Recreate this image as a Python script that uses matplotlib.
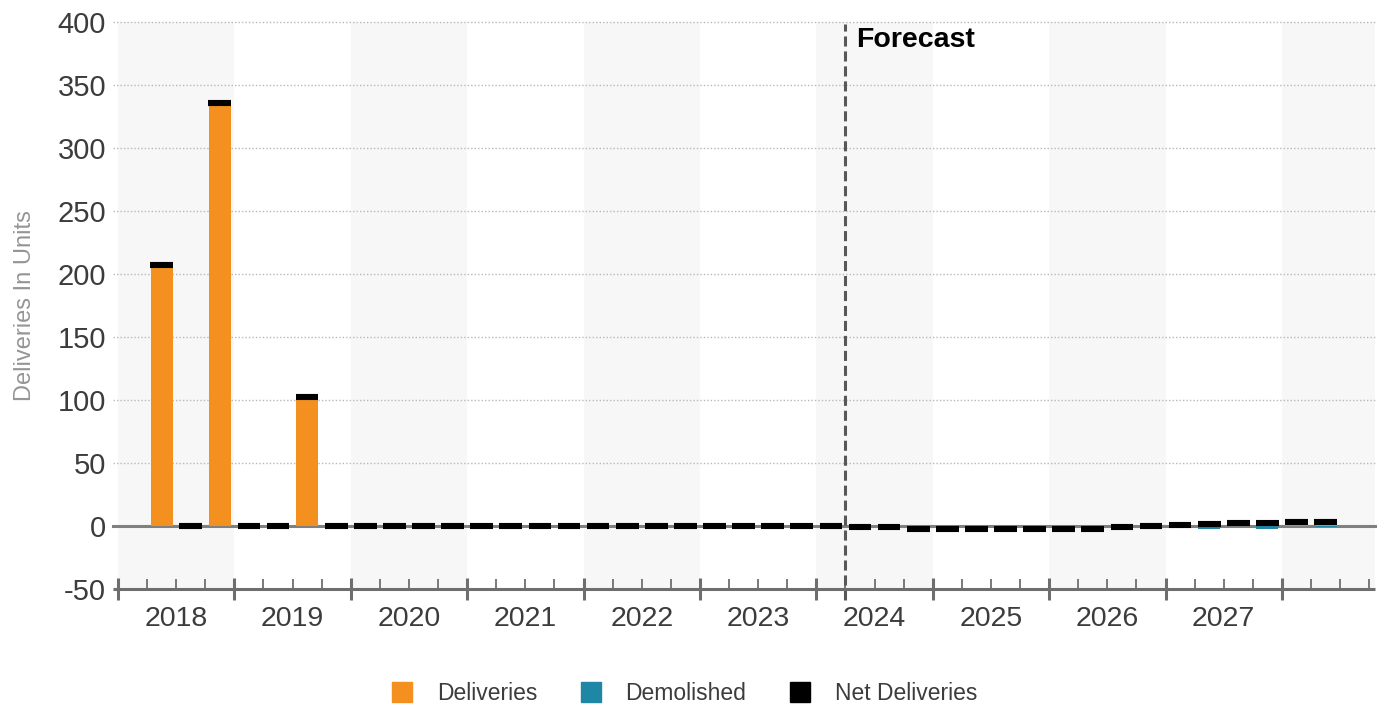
import matplotlib.pyplot as plt
import numpy as np
from matplotlib.lines import Line2D

plt.rcParams["font.family"] = ["Liberation Sans", "DejaVu Sans"]

# quarterly slots starting at 2018 Q1 (slot 0 has no data)
years = ["2018", "2019", "2020", "2021", "2022", "2023", "2024", "2025", "2026", "2027"]
deliveries = [np.nan, 207, 0, 336, 0, 0, 102, 0,
              0, 0, 0, 0, 0, 0, 0, 0,
              0, 0, 0, 0, 0, 0, 0, 0,
              0, 0, 0, 0, 0, 0, 0, 0,
              0, 0, 0, 0, 1, 3.6, 2, 4.6,
              3, 3.8]
demolished = [np.nan, 0, 0, 0, 0, 0, 0, 0,
              0, 0, 0, 0, 0, 0, 0, 0,
              0, 0, 0, 0, 0, 0, 0, 0,
              0, -1, -1, -2, -2, -2, -2, -2,
              -2, -2, -1, 0, 0, -2.4, 0, -2.6,
              0, -0.8]
net_deliveries = [np.nan, 207, 0, 336, 0, 0, 102, 0,
                  0, 0, 0, 0, 0, 0, 0, 0,
                  0, 0, 0, 0, 0, 0, 0, 0,
                  0, -1, -1, -2, -2, -2, -2, -2,
                  -2, -2, -1, 0, 1, 1.2, 2, 2.0,
                  3, 3.0]
forecast_start = 25

orange = "#f39020"
teal = "#1f87a5"
axis_grey = "#6e6e6e"
text_grey = "#3c3c3c"

x = np.arange(len(deliveries)) + 0.5
bar_w = 0.76

fig = plt.figure(figsize=(13.85, 7.11), dpi=100)
ax = fig.add_axes([0.0852, 0.1716, 0.9076, 0.7975])
ax.set_xlim(0, 43.2)
ax.set_ylim(-50, 400)

# alternating year bands
for k in range(0, 11, 2):
    ax.axvspan(4 * k, min(4 * k + 4, 43.2), color="#f7f7f7", lw=0, zorder=0)

# dotted gridlines that poke out a little to the left
ytr = ax.get_yaxis_transform()
for v in range(50, 401, 50):
    ax.plot([-0.004, 1], [v, v], transform=ytr, color="#b8b8b8", lw=1,
            ls=(0, (1, 1.5)), clip_on=False, zorder=1)
ax.plot([-0.004, 1], [0, 0], transform=ytr, color="#808080", lw=2.2,
        clip_on=False, zorder=2)

ax.bar(x, deliveries, width=bar_w, color=orange, zorder=3)
ax.bar(x, demolished, width=bar_w, color=teal, zorder=3)
ax.hlines(net_deliveries, x - bar_w / 2 - 0.01, x + bar_w / 2 + 0.01,
          colors="black", lw=4.4, capstyle="butt", zorder=4)

# forecast divider
ax.plot([forecast_start, forecast_start], [-59, 398], color="#585858", lw=2.2,
        dashes=(3.3, 1.6), clip_on=False, zorder=5)
ax.text(forecast_start + 0.36, 386, "Forecast", fontsize=20.5, fontweight="bold",
        color="black", va="center", ha="left", zorder=6)

# bottom axis
for s in ["top", "right", "left", "bottom"]:
    ax.spines[s].set_visible(False)
ax.plot([-0.004, 1], [-50, -50], transform=ytr, color=axis_grey, lw=2.2,
        clip_on=False, zorder=5, solid_capstyle="butt")
ax.set_xticks(np.arange(0, 41, 4))
ax.set_xticks(np.arange(0, 44, 1), minor=True)
ax.tick_params(axis="x", which="major", direction="inout", length=16, width=2.2,
               color=axis_grey, labelbottom=False)
ax.tick_params(axis="x", which="minor", direction="in", length=7, width=1.3,
               color=axis_grey)
for i, yr in enumerate(years):
    ax.text(4 * i + 2, -73.5, yr, ha="center", va="center", fontsize=20.5,
            color=text_grey, clip_on=False)

ax.set_yticks(range(-50, 401, 50))
ax.set_yticklabels([str(v) for v in range(-50, 401, 50)])
ax.tick_params(axis="y", length=0, pad=8.5, labelsize=21, labelcolor=text_grey)
ax.set_ylabel("Deliveries In Units", fontsize=17, color="#959595")
ax.yaxis.set_label_coords(-0.0655, 0.5)

handles = [
    Line2D([], [], marker="s", ls="", color=orange, markersize=14),
    Line2D([], [], marker="s", ls="", color=teal, markersize=14),
    Line2D([], [], marker="s", ls="", color="black", markersize=14),
]
fig.legend(handles, ["Deliveries", "Demolished", "Net Deliveries"], loc="center",
           bbox_to_anchor=(0.493, 0.024), ncol=3, frameon=False, fontsize=16.5,
           handletextpad=0.9, columnspacing=1.75, handlelength=1.2,
           labelcolor=text_grey)

fig.savefig("out.png", dpi=100)
